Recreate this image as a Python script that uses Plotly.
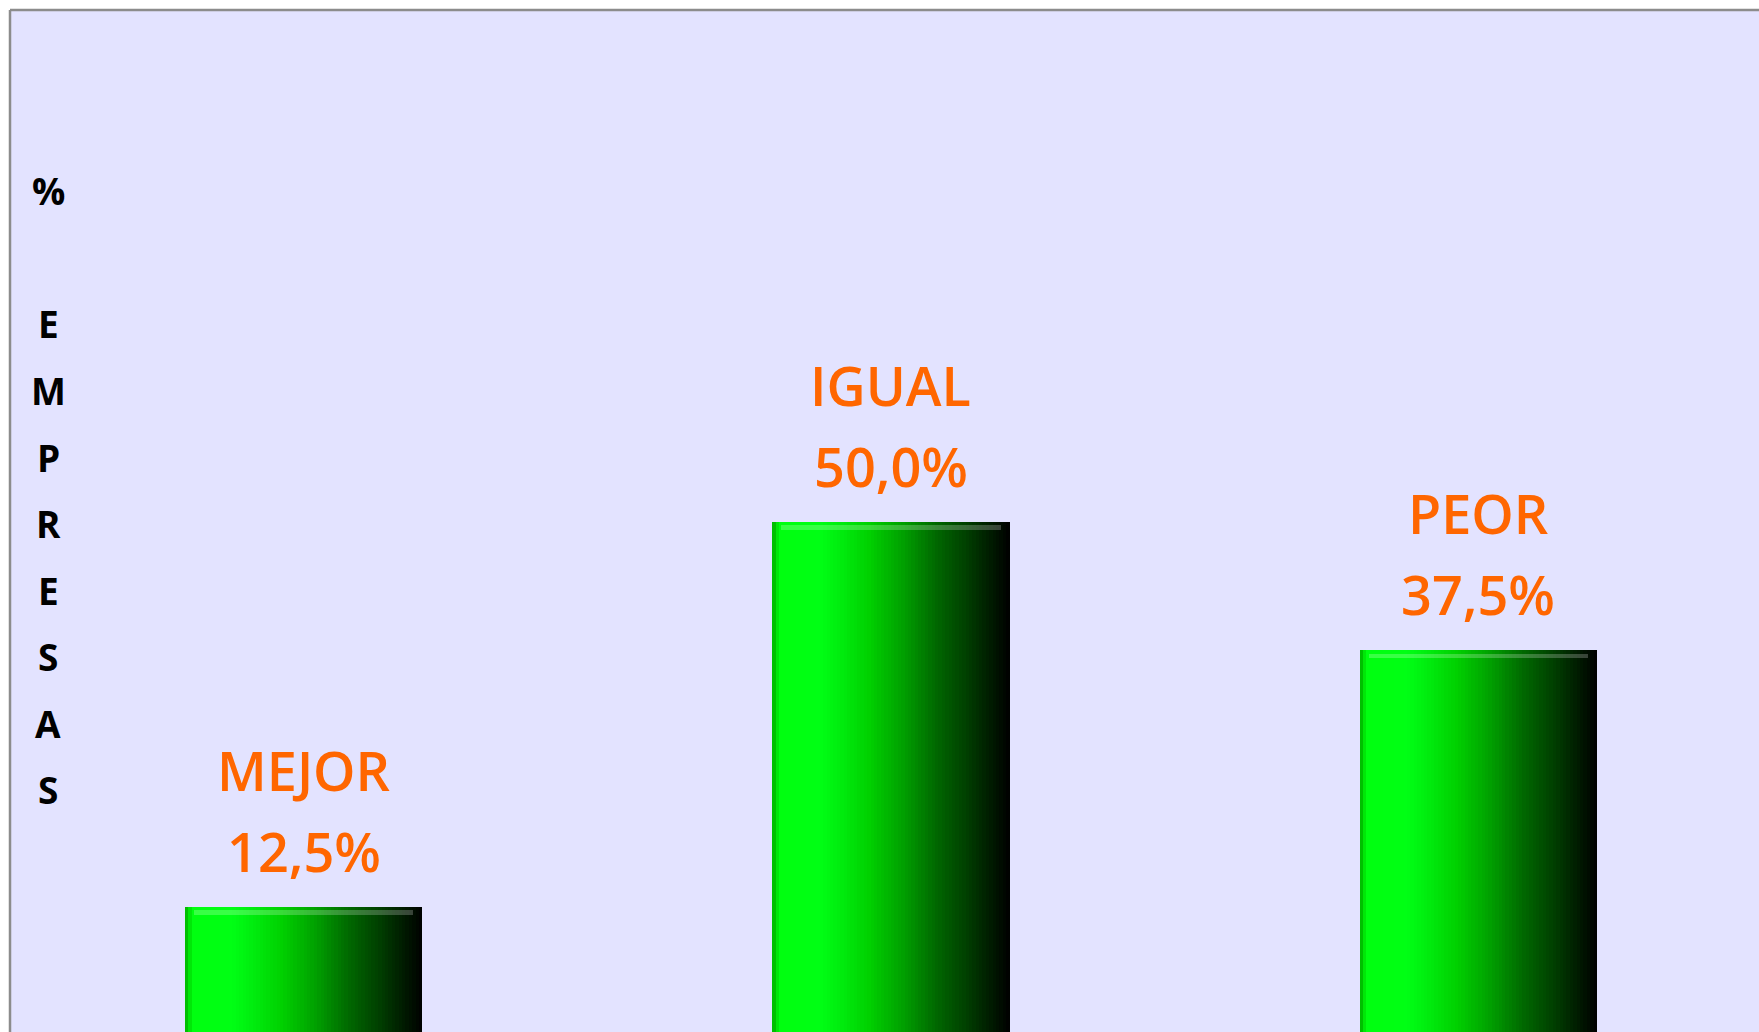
import plotly.graph_objects as go

# ---- data ----
categories = ["MEJOR", "IGUAL", "PEOR"]
values = [12.5, 50.0, 37.5]
value_labels = ["12,5%", "50,0%", "37,5%"]
axis_letters = ["%", "", "E", "M", "P", "R", "E", "S", "A", "S"]

# ---- style ----
BG = "#E3E3FF"
ORANGE = "#FF6600"
BORDER = "#8C8C8C"
W, H = 1759, 1032
ML, MT = 10, 10
BAR_W = 0.404
N_SLICES = 70

# gradient control points (fraction across bar, rgb)
stops = [
    (0.00, (0, 170, 0)),
    (0.012, (0, 205, 0)),
    (0.03, (0, 255, 16)),
    (0.20, (0, 255, 20)),
    (0.27, (0, 240, 16)),
    (0.41, (0, 208, 0)),
    (0.55, (0, 160, 0)),
    (0.69, (0, 104, 0)),
    (0.84, (0, 56, 0)),
    (0.97, (0, 10, 0)),
    (1.00, (0, 0, 0)),
]


def grad(f):
    for (f0, c0), (f1, c1) in zip(stops[:-1], stops[1:]):
        if f0 <= f <= f1:
            t = 0 if f1 == f0 else (f - f0) / (f1 - f0)
            c = [round(a + (b - a) * t) for a, b in zip(c0, c1)]
            return "rgb(%d,%d,%d)" % tuple(c)
    return "rgb(0,0,0)"


fig = go.Figure()
n = len(categories)
for i in range(N_SLICES):
    f = (i + 0.5) / N_SLICES
    off = -BAR_W / 2 + i * BAR_W / N_SLICES
    fig.add_trace(go.Bar(
        x=categories, y=values,
        width=[BAR_W - i * BAR_W / N_SLICES] * n,
        offset=[off] * n,
        marker=dict(color=grad(f), line=dict(width=0)),
        hoverinfo="skip", showlegend=False,
    ))

# bevel highlight band near top of each bar
px_y = 1 / 10.266  # data units per pixel (approx)
px_x = 1 / 587.25
inset = 9 * px_x
fig.add_trace(go.Bar(
    x=categories, y=[4.5 * px_y] * n,
    base=[v - 8 * px_y for v in values],
    width=[BAR_W - 2 * inset] * n,
    offset=[-BAR_W / 2 + inset] * n,
    marker=dict(color="rgba(255,255,255,0.22)", line=dict(width=0)),
    hoverinfo="skip", showlegend=False,
))

# labels
annotations = []
for c, v, lab in zip(categories, values, value_labels):
    annotations.append(dict(
        x=c, y=v, xref="x", yref="y", text=lab, showarrow=False,
        yanchor="bottom", yshift=17,
        font=dict(family="Open Sans", size=54, color=ORANGE, weight=600),
    ))
    annotations.append(dict(
        x=c, y=v, xref="x", yref="y", text=c, showarrow=False,
        yanchor="bottom", yshift=98,
        font=dict(family="Open Sans", size=54, color=ORANGE, weight=600),
    ))

# vertical axis title, one letter per line
plot_h = H - MT
first_mid = 191
pitch = 66.5
for k, ch in enumerate(axis_letters):
    if not ch:
        continue
    mid = first_mid + k * pitch
    annotations.append(dict(
        x=(48 - ML) / (W - ML), y=1 - (mid - MT) / plot_h,
        xref="paper", yref="paper", text=ch, showarrow=False,
        xanchor="center", yanchor="middle",
        font=dict(family="Open Sans", size=37, color="#000000", weight=700),
    ))

fig.update_layout(
    width=W, height=H, autosize=False,
    margin=dict(l=ML, r=0, t=MT, b=0, pad=0),
    paper_bgcolor="white", plot_bgcolor=BG,
    barmode="overlay", bargap=0,
    annotations=annotations,
    xaxis=dict(range=[-0.5, 2.478], showticklabels=False, showgrid=False,
               zeroline=False, ticks=""),
    yaxis=dict(range=[0.32, 99.87], showticklabels=False, showgrid=False,
               zeroline=False, ticks=""),
    shapes=[
        dict(type="line", xref="paper", yref="paper", x0=0, x1=1, y0=1, y1=1,
             line=dict(color=BORDER, width=2.5)),
        dict(type="line", xref="paper", yref="paper", x0=0, x1=0, y0=0, y1=1,
             line=dict(color=BORDER, width=2.5)),
    ],
)

fig.write_html(
    "out.html",
    config={"displayModeBar": False},
    post_script="document.body.style.margin='0';document.body.style.overflow='hidden';",
)
